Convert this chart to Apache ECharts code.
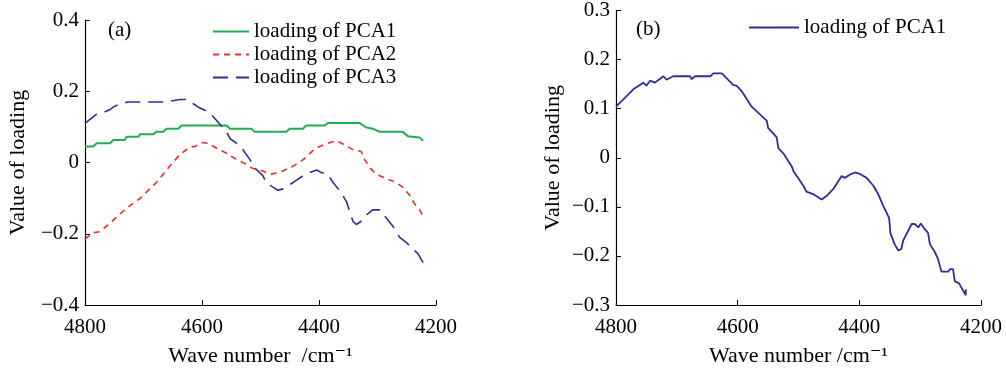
<!DOCTYPE html>
<html>
<head>
<meta charset="utf-8">
<style>
  html, body { margin: 0; padding: 0; background: #fff; }
  #chart { width: 1006px; height: 372px; }
</style>
<script src="https://cdn.jsdelivr.net/npm/echarts@6/dist/echarts.min.js"></script>
</head>
<body>
<div id="chart"></div>
<script>
// panel (a) - loading of PCA1 (green, stepped)
const waveA1 = [4800, 4786, 4780, 4774, 4757, 4752, 4732, 4729, 4709, 4706, 4683, 4678, 4666, 4661, 4641, 4635,
  4558, 4552, 4516, 4510, 4456, 4450, 4427, 4422, 4390, 4385, 4331, 4320, 4308, 4296, 4257, 4248, 4228, 4222]
const loadA1 = [0.045, 0.045, 0.054, 0.054, 0.054, 0.063, 0.063, 0.072, 0.072, 0.079, 0.079, 0.086, 0.086, 0.095, 0.095, 0.104,
  0.104, 0.095, 0.095, 0.086, 0.086, 0.095, 0.095, 0.104, 0.104, 0.111, 0.111, 0.099, 0.095, 0.086, 0.086, 0.074, 0.070, 0.061]

// panel (a) - loading of PCA2 (red, short dash)
const waveA2 = [4800, 4786, 4774, 4754, 4729, 4706, 4678, 4655, 4638, 4621, 4612, 4601, 4590, 4575, 4558, 4541, 4524,
  4513, 4496, 4484, 4467, 4456, 4444, 4427, 4410, 4399, 4385, 4370, 4359, 4342, 4328, 4322, 4313, 4302, 4285, 4268,
  4257, 4245, 4237, 4228, 4222]
const loadA2 = [-0.215, -0.197, -0.194, -0.165, -0.128, -0.101, -0.056, -0.010, 0.022, 0.043, 0.045, 0.056, 0.054, 0.040,
  0.026, 0.008, -0.005, -0.017, -0.024, -0.033, -0.028, -0.019, -0.010, 0.008, 0.034, 0.045, 0.054, 0.061, 0.052, 0.036,
  0.031, 0.008, -0.015, -0.033, -0.045, -0.056, -0.069, -0.092, -0.115, -0.133, -0.151]

// panel (a) - loading of PCA3 (blue, long dash)
const waveA3 = [4800, 4791, 4780, 4769, 4757, 4749, 4740, 4726, 4689, 4661, 4638, 4626, 4615, 4607, 4598, 4587, 4575,
  4558, 4552, 4541, 4530, 4518, 4513, 4496, 4490, 4479, 4470, 4462, 4444, 4427, 4416, 4404, 4396, 4385, 4376, 4365,
  4353, 4342, 4336, 4328, 4319, 4308, 4296, 4285, 4274, 4262, 4251, 4240, 4231, 4222]
const loadA3 = [0.110, 0.122, 0.136, 0.140, 0.149, 0.158, 0.165, 0.170, 0.170, 0.170, 0.177, 0.177, 0.165, 0.156, 0.149,
  0.140, 0.118, 0.086, 0.067, 0.054, 0.036, 0.008, -0.010, -0.037, -0.056, -0.069, -0.078, -0.074, -0.056, -0.037,
  -0.028, -0.021, -0.028, -0.033, -0.056, -0.078, -0.110, -0.165, -0.174, -0.165, -0.147, -0.133, -0.133, -0.156,
  -0.178, -0.210, -0.224, -0.242, -0.256, -0.281]

// panel (b) - loading of PCA1
const waveB = [4800, 4771, 4755, 4750, 4744, 4736, 4722, 4717, 4706, 4678, 4676, 4670, 4645, 4640, 4626, 4607, 4602,
  4593, 4577, 4552, 4550, 4536, 4533, 4525, 4511, 4508, 4492, 4487, 4476, 4462, 4454, 4443, 4429, 4424, 4415, 4407,
  4399, 4388, 4377, 4369, 4361, 4351, 4349, 4342, 4336, 4331, 4328, 4314, 4309, 4303, 4299, 4292, 4287, 4284, 4276,
  4271, 4265, 4254, 4251, 4246, 4243, 4236, 4232, 4225, 4225]
const loadB = [0.104, 0.140, 0.153, 0.147, 0.157, 0.153, 0.166, 0.159, 0.166, 0.166, 0.160, 0.166, 0.166, 0.172, 0.172,
  0.148, 0.147, 0.135, 0.104, 0.075, 0.061, 0.042, 0.019, 0.009, -0.018, -0.028, -0.057, -0.069, -0.074, -0.085,
  -0.078, -0.064, -0.037, -0.041, -0.034, -0.030, -0.033, -0.041, -0.057, -0.074, -0.097, -0.123, -0.153, -0.176,
  -0.189, -0.186, -0.169, -0.135, -0.135, -0.142, -0.134, -0.146, -0.153, -0.176, -0.192, -0.205, -0.232, -0.232,
  -0.227, -0.227, -0.252, -0.256, -0.265, -0.280, -0.268]

const xTicks = [4800, 4600, 4400, 4200]

const serif = '"Liberation Serif", "DejaVu Serif", serif'
const pairs = (xs, ys) => xs.map((x, i) => [x, ys[i]])
const fmtY = v => (v === 0 ? '0' : String(+v.toFixed(1)).replace('-', '\u2212'))

const axisCommon = {
  axisLine: { show: true, onZero: false, lineStyle: { color: '#000', width: 1.2 } },
  axisTick: { show: true, inside: true, length: 5, lineStyle: { color: '#000' } },
  splitLine: { show: false },
  axisLabel: { color: '#000', fontFamily: serif, fontSize: 21 },
  nameTextStyle: { color: '#000', fontFamily: serif, fontSize: 22 }
}

const xAxisOf = (gridIndex, title) => Object.assign({}, axisCommon, {
  type: 'value',
  gridIndex,
  min: 4200,
  max: 4800,
  interval: 200,
  inverse: true,
  name: title,
  nameLocation: 'middle',
  nameGap: 40,
  axisLabel: Object.assign({}, axisCommon.axisLabel, { margin: 12, formatter: v => (xTicks.includes(v) ? String(v) : '') })
})

const yAxisOf = (gridIndex, min, max, step, gap) => Object.assign({}, axisCommon, {
  type: 'value',
  gridIndex,
  min,
  max,
  interval: step,
  name: 'Value of loading',
  nameLocation: 'middle',
  nameGap: gap,
  axisLabel: Object.assign({}, axisCommon.axisLabel, { margin: 6, formatter: fmtY })
})

const legendCommon = {
  itemHeight: 4,
  itemStyle: { opacity: 0 },
  textStyle: { color: '#000', fontFamily: serif, fontSize: 21 }
}

const chart = echarts.init(document.getElementById('chart'))
chart.setOption({
  backgroundColor: '#fff',
  animation: false,
  grid: [
    { left: 85, top: 20, width: 351, height: 293 },
    { left: 616, top: 6, width: 365, height: 303 }
  ],
  xAxis: [xAxisOf(0, 'Wave number  /cm\u207B\u00B9'), xAxisOf(1, 'Wave number /cm\u207B\u00B9')],
  yAxis: [yAxisOf(0, -0.4, 0.4, 0.2, 56), yAxisOf(1, -0.3, 0.3, 0.1, 52)],
  legend: [
    Object.assign({}, legendCommon, {
      data: ['loading of PCA1', 'loading of PCA2', 'loading of PCA3'],
      orient: 'vertical',
      left: 207,
      top: 16,
      itemWidth: 36,
      itemGap: 2
    }),
    Object.assign({}, legendCommon, {
      data: ['loading of PCA1 '],
      left: 743,
      top: 12,
      itemWidth: 50
    })
  ],
  graphic: [
    { type: 'text', left: 108, top: 20, style: { text: '(a)', font: '21px ' + serif, fill: '#000' } },
    { type: 'text', left: 636, top: 19, style: { text: '(b)', font: '21px ' + serif, fill: '#000' } }
  ],
  series: [
    {
      name: 'loading of PCA1',
      type: 'line',
      xAxisIndex: 0,
      yAxisIndex: 0,
      showSymbol: false,
      symbol: 'none',
      data: pairs(waveA1, loadA1),
      lineStyle: { color: '#22ad52', width: 2 },
      itemStyle: { color: '#22ad52' }
    },
    {
      name: 'loading of PCA2',
      type: 'line',
      xAxisIndex: 0,
      yAxisIndex: 0,
      showSymbol: false,
      symbol: 'none',
      data: pairs(waveA2, loadA2),
      lineStyle: { color: '#ee2b2b', width: 1.6, type: [6, 5] },
      itemStyle: { color: '#ee2b2b' }
    },
    {
      name: 'loading of PCA3',
      type: 'line',
      xAxisIndex: 0,
      yAxisIndex: 0,
      showSymbol: false,
      symbol: 'none',
      data: pairs(waveA3, loadA3),
      lineStyle: { color: '#2e2f96', width: 1.6, type: [15, 8] },
      itemStyle: { color: '#2e2f96' }
    },
    {
      name: 'loading of PCA1 ',
      type: 'line',
      xAxisIndex: 1,
      yAxisIndex: 1,
      showSymbol: false,
      symbol: 'none',
      data: pairs(waveB, loadB),
      lineStyle: { color: '#2e2f96', width: 1.8 },
      itemStyle: { color: '#2e2f96' }
    }
  ]
})
</script>
</body>
</html>
